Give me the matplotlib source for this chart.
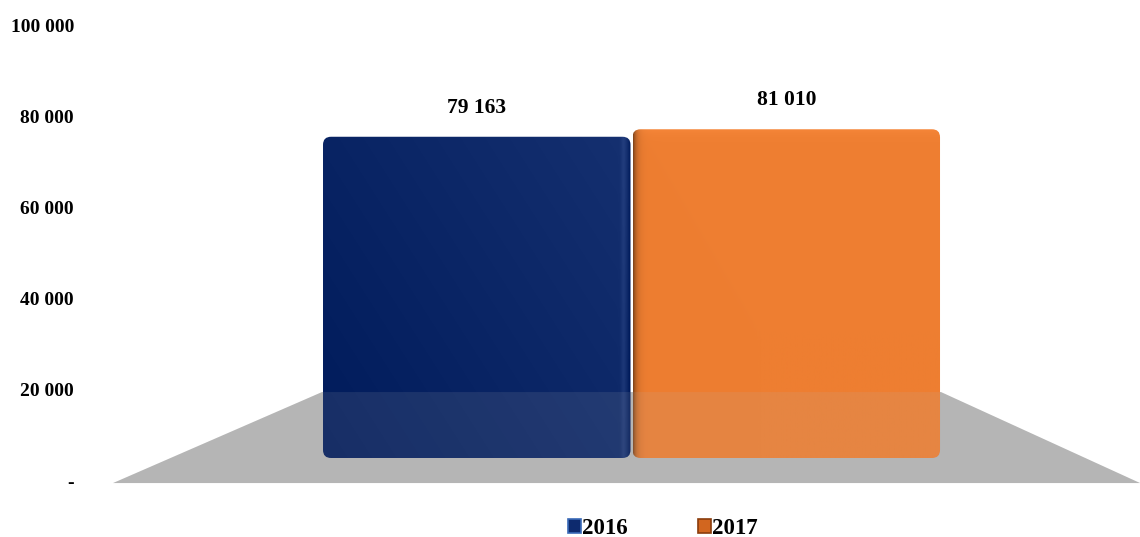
import numpy as np
import matplotlib
matplotlib.use("Agg")
import matplotlib.pyplot as plt
from matplotlib.patches import FancyBboxPatch, Polygon, Patch

plt.rcParams['font.family'] = ['Liberation Serif', 'DejaVu Serif']
plt.rcParams['font.weight'] = 'bold'

years = ['2016', '2017']
values = [79163, 81010]
yticks = [0, 20000, 40000, 60000, 80000, 100000]

W, H = 1140, 537
fig = plt.figure(figsize=(W / 100, H / 100), dpi=100)

# pixel layout helpers
def frac(x0, y_top, x1, y_bot):
    return [x0 / W, (H - y_bot) / H, (x1 - x0) / W, (y_bot - y_top) / H]

xlim = (-1.2496, 2.1429)
px_per_x = 1050 / (xlim[1] - xlim[0])

# value axis with the tick labels and the floor
ax = fig.add_axes(frac(90, 25, 1140, 481))
ax.set_xlim(*xlim)
ax.set_ylim(0, 100000)
ax.set_yticks(yticks)
ax.set_yticklabels(['-' if v == 0 else f'{v:,}'.replace(',', ' ') for v in yticks],
                   fontsize=14, fontweight='bold')
ax.tick_params(axis='y', length=0, pad=11.5)
ax.set_xticks([])
for s in ax.spines.values():
    s.set_visible(False)

floor_xy = [(-1.175, -450), (-0.5, 19500), (1.5, 19500), (2.143, -450)]
ax.add_patch(Polygon(floor_xy, closed=True, facecolor='#b5b5b5', edgecolor='none',
                     clip_on=False, zorder=1))

# bar axis (perspective: bars start a little above the front edge of the floor)
bar_h_px = 405.8
axb = fig.add_axes(frac(90, 458 - bar_h_px, 1140, 458))
axb.set_xlim(*xlim)
axb.set_ylim(0, 100000)
axb.axis('off')
axb.patch.set_visible(False)
px_per_y = bar_h_px / 100000

radius = 8 / px_per_x
aspect = (8 / px_per_y) / radius


def bar_image(kind, nx=310, ny=330):
    u = np.linspace(0, 1, nx)[None, :]
    v = np.linspace(1, 0, ny)[:, None]
    if kind == 0:
        c0 = np.array([0x00, 0x1b, 0x5b]) / 255
        c1 = np.array([0x15, 0x30, 0x70]) / 255
        t = (u * 0.6 + v * 0.4)
        img = c0 + (c1 - c0) * t[..., None]
        # soft light rim near the right edge, dark just outside it
        dx = (1 - u) * 309
        rim = 0.05 * np.exp(-((dx - 7) / 2.5) ** 2) - 0.07 * np.exp(-(dx / 2.5) ** 2)
        img = img + rim[..., None] + 0 * v[..., None]
    else:
        base = np.array([0xee, 0x7e, 0x31]) / 255
        img = np.ones((ny, nx, 3)) * base
        dx = u * 309
        shade = 1 - 0.45 * np.exp(-dx / 3.5)
        img = img * shade[..., None]
        top = (1 - v) * 330
        img = img + (0.03 * np.exp(-top / 6.0))[..., None]
    return np.clip(img, 0, 1)


for i, val in enumerate(values):
    x0 = i - 0.5 + 1 / px_per_x
    w = 1 - 2 / px_per_x
    box = FancyBboxPatch((x0, 0), w, val,
                         boxstyle=f"round,pad=0,rounding_size={radius}",
                         mutation_aspect=aspect, facecolor='none', edgecolor='none')
    axb.add_patch(box)
    im = axb.imshow(bar_image(i), extent=(x0, x0 + w, 0, val), aspect='auto',
                    interpolation='bilinear', zorder=2)
    im.set_clip_path(box)
    axb.annotate(f'{val:,}'.replace(',', ' '), (i, val), xytext=(0, 21),
                 textcoords='offset points', ha='center', va='center',
                 fontsize=15.5, fontweight='bold')

axb.set_xlim(*xlim)
axb.set_ylim(0, 100000)

# floor seen through the lower part of the bars
axb.add_patch(Polygon(floor_xy, closed=True, facecolor='#b5b5b5', edgecolor='none',
                      alpha=0.13, transform=ax.transData, clip_on=False, zorder=3))

handles = [Patch(facecolor='#0d2a6e', edgecolor='#3a6ab8', linewidth=1.2),
           Patch(facecolor='#d2661f', edgecolor='#8a3c0c', linewidth=1.2)]
fig.legend(handles, years, loc='center', bbox_to_anchor=(663 / W, (H - 528.5) / H),
           ncol=2, frameon=False, prop={'size': 16.5, 'weight': 'bold'},
           handlelength=0.57, handleheight=0.57, handletextpad=0.05,
           columnspacing=3.05, borderpad=0)

fig.savefig('out.png', dpi=100)
